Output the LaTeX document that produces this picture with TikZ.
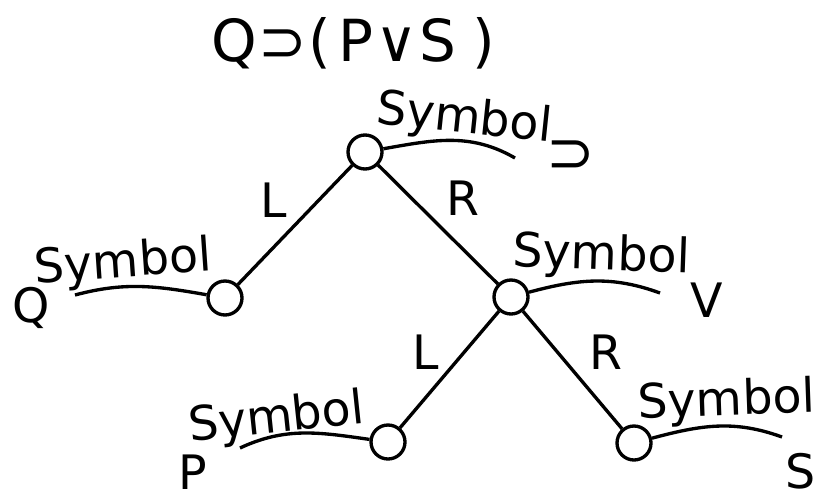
\documentclass[tikz,border=0pt]{standalone}
\usepackage{fontspec}
\setmainfont{DejaVu Sans}

\begin{document}
\begin{tikzpicture}[line width=1.9pt,
    vertex/.style={draw, circle, minimum size=0.68cm, inner sep=0pt},
    symtext/.style={font=\fontsize{27}{32}\selectfont, anchor=base, inner sep=0pt},
    letter/.style={font=\fontsize{27}{32}\selectfont, inner sep=0pt}]
  \useasboundingbox (0,0) rectangle (16.34,9.98);

  % Formula
  \node[font=\fontsize{33}{38}\selectfont, anchor=base] (formula) at (7.06,8.74)
    {Q\kern1pt⊃\kern1pt(\kern4pt P\kern1pt∨\kern1pt S\kern9pt)};

  % Tree nodes
  \node[vertex] (root) at (7.30,6.94) {};
  \node[vertex] (q) at (4.50,4.02) {};
  \node[vertex] (v) at (10.22,4.04) {};
  \node[vertex] (p) at (7.76,1.14) {};
  \node[vertex] (s) at (12.68,1.12) {};

  % Branches
  \draw (root) -- (q);
  \draw (root) -- (v);
  \draw (v) -- (p);
  \draw (v) -- (s);

  % Branch labels
  \node[letter] (rootL) at (5.48,5.98) {L};
  \node[letter] (rootR) at (9.26,6.02) {R};
  \node[letter] (vL) at (8.52,2.94) {L};
  \node[letter] (vR) at (12.12,2.94) {R};

  % Symbol properties
  \coordinate (rootEnd) at (10.30,6.82);
  \draw (root) to[out=10, in=150] (rootEnd);
  \node[symtext, rotate=-6] (rootSym) at (9.26,7.32) {Symbol};
  \node[letter, font=\fontsize{33}{38}\selectfont] (rootVal) at (11.42,6.84) {⊃};

  \coordinate (qEnd) at (1.50,4.08);
  \draw (q) to[out=170, in=15] (qEnd);
  \node[symtext, rotate=4] (qSym) at (2.48,4.44) {Symbol};
  \node[letter] (qVal) at (0.62,3.82) {Q};

  \coordinate (vEnd) at (13.20,4.12);
  \draw (v) to[out=15, in=160] (vEnd);
  \node[symtext, rotate=-2] (vSym) at (12.02,4.58) {Symbol};
  \node[letter] (vVal) at (14.14,3.98) {V};

  \coordinate (pEnd) at (4.80,1.02);
  \draw (p) to[out=172, in=25] (pEnd);
  \node[symtext, rotate=6] (pSym) at (5.56,1.34) {Symbol};
  \node[letter] (pVal) at (3.86,0.54) {P};

  \coordinate (sEnd) at (15.64,1.24);
  \draw (s) to[out=15, in=160] (sEnd);
  \node[symtext, rotate=2] (sSym) at (14.54,1.68) {Symbol};
  \node[letter] (sVal) at (16.02,0.56) {S};
\end{tikzpicture}
\end{document}
